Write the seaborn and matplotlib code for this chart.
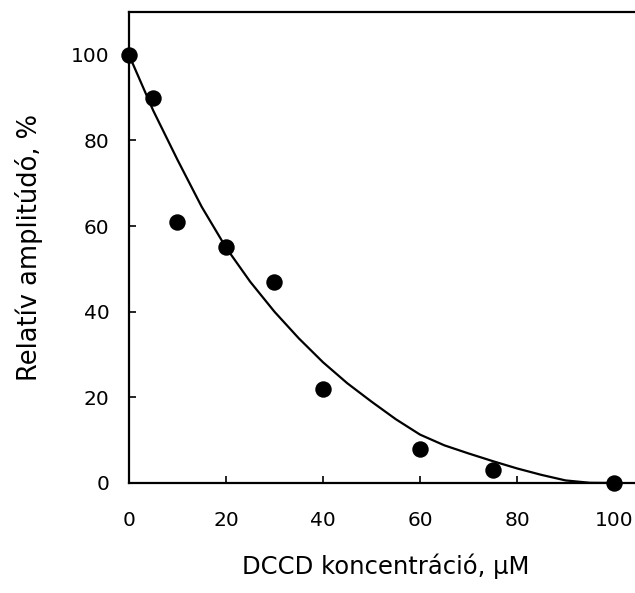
import matplotlib
matplotlib.use("Agg")
import matplotlib.pyplot as plt
import seaborn as sns
import pandas as pd

# measured points
conc = [0, 5, 10, 20, 30, 40, 60, 75, 100]
amplitude = [100, 90, 61, 55, 47, 22, 8, 3, 0]

# fitted curve
curve_x = [0, 5, 10, 15, 20, 25, 30, 35, 40, 45, 50, 55, 60, 65, 70, 75, 80, 85, 90, 95, 100]
curve_y = [100, 87, 75.5, 64.5, 55, 47, 40, 33.8, 28.2, 23.3, 19.0, 14.9, 11.3, 8.8, 6.9,
           5.1, 3.4, 1.9, 0.6, 0.05, 0]

x_ticks = [0, 20, 40, 60, 80, 100]
y_ticks = [0, 20, 40, 60, 80, 100]

sns.set_theme(style="ticks")
plt.rcParams['font.family'] = ['DejaVu Sans']

fig = plt.figure(figsize=(6.35, 5.93), dpi=100)
ax = fig.add_axes([0.203, 0.1855, 0.81, 0.7943])

pts = pd.DataFrame({"x": conc, "y": amplitude})
crv = pd.DataFrame({"x": curve_x, "y": curve_y})

sns.lineplot(data=crv, x="x", y="y", ax=ax, color="black", linewidth=1.6, sort=True)
sns.scatterplot(data=pts, x="x", y="y", ax=ax, color="black", s=140, edgecolor="black",
                linewidth=0, zorder=5, clip_on=False)

ax.set_xlim(0, 106)
ax.set_ylim(0, 110)
ax.set_xticks(x_ticks)
ax.set_yticks(y_ticks)
ax.tick_params(direction="in", length=5, width=1.2, labelsize=14.5, color="black",
               labelcolor="black")
ax.tick_params(axis="x", pad=20)
ax.tick_params(axis="y", pad=14)
for s in ax.spines.values():
    s.set_color("black")
    s.set_linewidth(1.6)
ax.spines["right"].set_visible(False)

ax.set_xlabel("DCCD koncentráció, µM", fontsize=17.5, labelpad=17, color="black")
ax.set_ylabel("Relatív amplitúdó, %", fontsize=18.5, labelpad=20, color="black")
ax.grid(False)

fig.savefig("out.png", dpi=100)
